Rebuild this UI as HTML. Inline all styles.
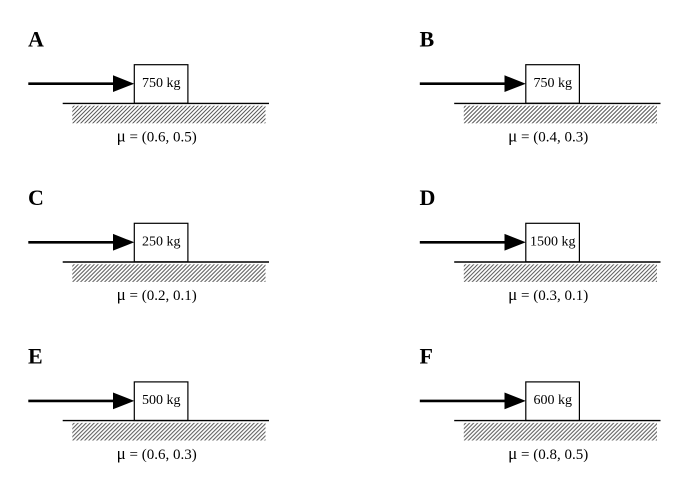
<!DOCTYPE html>
<html>
<head>
<meta charset="utf-8">
<style>
html,body{margin:0;padding:0;background:#fff;}
svg{display:block;}
text{font-family:"Liberation Serif","DejaVu Serif",serif;fill:#000;}
.lbl{font-size:22px;font-weight:bold;}
.kg{font-size:14px;}
.mu{font-size:15px;}
</style>
</head>
<body>
<svg width="680" height="482" viewBox="0 0 680 482" xmlns="http://www.w3.org/2000/svg">
<defs>
<pattern id="h" patternUnits="userSpaceOnUse" width="4" height="4">
<path d="M-1,1 l2,-2 M0,4 l4,-4 M3,5 l2,-2" stroke="#5a5a5a" stroke-width="1"/>
</pattern>
<g id="panel">
<line x1="28.3" y1="83.7" x2="116" y2="83.7" stroke="#000" stroke-width="2.6"/>
<polygon points="113,75.3 134.3,83.7 113,92" fill="#000"/>
<rect x="134.3" y="64.7" width="53.6" height="38.6" fill="#fff" stroke="#000" stroke-width="1.2"/>
<line x1="62.7" y1="103.4" x2="269" y2="103.4" stroke="#000" stroke-width="1.4"/>
<rect x="72.3" y="105.7" width="193.2" height="17.6" fill="url(#h)"/>
</g>
</defs>

<!-- A -->
<g transform="translate(0,0)">
<use href="#panel"/>
<text class="lbl" x="28" y="46.5">A</text>
<text class="kg" x="161.3" y="87" text-anchor="middle">750 kg</text>
<text class="mu" x="156.7" y="141.6" text-anchor="middle"><tspan font-size="17">μ</tspan> = (0.6, 0.5)</text>
</g>
<!-- B -->
<g transform="translate(391.5,0)">
<use href="#panel"/>
<text class="lbl" x="28" y="46.5">B</text>
<text class="kg" x="161.3" y="87" text-anchor="middle">750 kg</text>
<text class="mu" x="156.7" y="141.6" text-anchor="middle"><tspan font-size="17">μ</tspan> = (0.4, 0.3)</text>
</g>
<!-- C -->
<g transform="translate(0,158.6)">
<use href="#panel"/>
<text class="lbl" x="28" y="46.5">C</text>
<text class="kg" x="161.3" y="87" text-anchor="middle">250 kg</text>
<text class="mu" x="156.7" y="141.6" text-anchor="middle"><tspan font-size="17">μ</tspan> = (0.2, 0.1)</text>
</g>
<!-- D -->
<g transform="translate(391.5,158.6)">
<use href="#panel"/>
<text class="lbl" x="28" y="46.5">D</text>
<text class="kg" x="161.3" y="87" text-anchor="middle">1500 kg</text>
<text class="mu" x="156.7" y="141.6" text-anchor="middle"><tspan font-size="17">μ</tspan> = (0.3, 0.1)</text>
</g>
<!-- E -->
<g transform="translate(0,317.2)">
<use href="#panel"/>
<text class="lbl" x="28" y="46.5">E</text>
<text class="kg" x="161.3" y="87" text-anchor="middle">500 kg</text>
<text class="mu" x="156.7" y="141.6" text-anchor="middle"><tspan font-size="17">μ</tspan> = (0.6, 0.3)</text>
</g>
<!-- F -->
<g transform="translate(391.5,317.2)">
<use href="#panel"/>
<text class="lbl" x="28" y="46.5">F</text>
<text class="kg" x="161.3" y="87" text-anchor="middle">600 kg</text>
<text class="mu" x="156.7" y="141.6" text-anchor="middle"><tspan font-size="17">μ</tspan> = (0.8, 0.5)</text>
</g>
</svg>
</body>
</html>
